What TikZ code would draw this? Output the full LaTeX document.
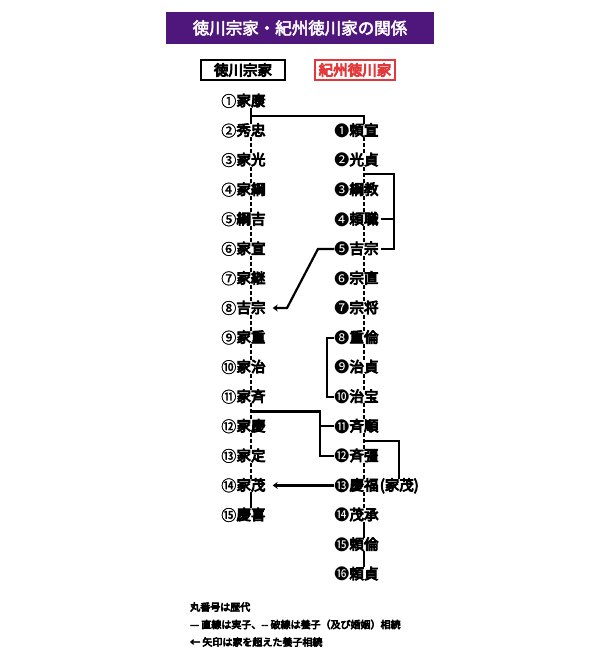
\documentclass[tikz,border=0pt]{standalone}
\usepackage{fontspec}
\setmainfont{Noto Sans CJK JP}
\newfontfamily\heavy{Noto Sans CJK JP}[FakeBold=6]
\newfontfamily\semi{Noto Sans CJK JP}[FakeBold=3]
\newfontfamily\numlight{Noto Sans CJK JP}[FakeBold=1.5]
\usetikzlibrary{arrows.meta,calc}
\definecolor{titlepurple}{HTML}{4F177B}
\definecolor{kired}{HTML}{E2383A}
\newcommand\lnd[4]{\node[nm,label={[lnum,name=#1n]left:#4}] (#1) at (251,#2) {#3};}
\newcommand\rnd[4]{\node[nm,label={[rnum,name=#1n]left:#4}] (#1) at (364,#2) {#3};}
\begin{document}
\begin{tikzpicture}[x=1pt,y=-1pt,
  nm/.style={font=\heavy\fontsize{14.5}{15}\selectfont, inner sep=0pt, text height=11.5pt, text depth=1.5pt},
  lnum/.style={font=\numlight\fontsize{15}{15}\selectfont, inner sep=0pt, outer sep=0pt},
  rnum/.style={font=\fontsize{15}{15}\selectfont, inner sep=0pt, outer sep=0pt},
  sl/.style={line width=2.2pt},
  dl/.style={line width=2.2pt, dash pattern=on 4pt off 2pt},
  arr/.style={line width=2.2pt, -{Stealth[length=5pt,width=7pt]}},
  hbox/.style={line width=2.2pt, minimum width=84pt, minimum height=20pt, inner sep=0pt, font=\heavy\fontsize{14.5}{15}\selectfont},
  leg/.style={anchor=west, inner sep=0pt, font=\heavy\fontsize{10}{11}\selectfont}]
\fill[white] (0,0) rectangle (600,658);
\useasboundingbox (0,0) rectangle (600,658);
% title
\node[fill=titlepurple, text=white, minimum width=268pt, minimum height=32pt, inner sep=0pt,
  font=\semi\fontsize{16.5}{17}\selectfont] (title) at (300,28) {徳川宗家・紀州徳川家の関係};
% headers
\node[hbox, draw=black] (h1) at (243,70) {徳川宗家};
\node[hbox, draw=kired, text=kired, minimum width=80pt] (h2) at (355,70) {紀州徳川家};
% left column
\lnd{L1}{101}{家康}{①}
\lnd{L2}{130.6}{秀忠}{②}
\lnd{L3}{160.1}{家光}{③}
\lnd{L4}{189.7}{家綱}{④}
\lnd{L5}{219.3}{綱吉}{⑤}
\lnd{L6}{248.9}{家宣}{⑥}
\lnd{L7}{278.4}{家継}{⑦}
\lnd{L8}{308}{吉宗}{⑧}
\lnd{L9}{337.6}{家重}{⑨}
\lnd{L10}{367.1}{家治}{⑩}
\lnd{L11}{396.7}{家斉}{⑪}
\lnd{L12}{426.3}{家慶}{⑫}
\lnd{L13}{455.9}{家定}{⑬}
\lnd{L14}{485.4}{家茂}{⑭}
\lnd{L15}{515}{慶喜}{⑮}
% right column
\rnd{R1}{130.6}{頼宣}{❶}
\rnd{R2}{160.1}{光貞}{❷}
\rnd{R3}{189.7}{綱教}{❸}
\rnd{R4}{219.3}{頼職}{❹}
\rnd{R5}{248.9}{吉宗}{❺}
\rnd{R6}{278.4}{宗直}{❻}
\rnd{R7}{308}{宗将}{❼}
\rnd{R8}{337.6}{重倫}{❽}
\rnd{R9}{367.1}{治貞}{❾}
\rnd{R10}{396.7}{治宝}{❿}
\rnd{R11}{426.3}{斉順}{⓫}
\rnd{R12}{455.9}{斉彊}{⓬}
\rnd{R13}{485.4}{慶福}{⓭}
\node[nm, anchor=west, xshift=1pt] (R13b) at (R13.east) {(家茂)};
\rnd{R14}{515}{茂承}{⓮}
\rnd{R15}{544.6}{頼倫}{⓯}
\rnd{R16}{574.1}{頼貞}{⓰}
% left vertical
\draw[sl] (L1) -- (L2);
\draw[dl] (L2) -- (L3);
\draw[dl] (L3) -- (L4);
\draw[dl] (L4) -- (L5);
\draw[dl] (L5) -- (L6);
\draw[dl] (L6) -- (L7);
\draw[dl] (L7) -- (L8);
\draw[dl] (L8) -- (L9);
\draw[dl] (L9) -- (L10);
\draw[dl] (L10) -- (L11);
\draw[dl] (L11) -- (L12);
\draw[dl] (L12) -- (L13);
\draw[dl] (L13) -- (L14);
\draw[sl] (L14) -- (L15);
% right vertical
\draw[dl] (R1) -- (R2);
\draw[dl] (R2) -- (R3);
\draw[dl] (R3) -- (R4);
\draw[dl] (R4) -- (R5);
\draw[dl] (R5) -- (R6);
\draw[dl] (R6) -- (R7);
\draw[dl] (R7) -- (R8);
\draw[dl] (R8) -- (R9);
\draw[dl] (R9) -- (R10);
\draw[dl] (R10) -- (R11);
\draw[dl] (R11) -- (R12);
\draw[dl] (R12) -- (R13);
\draw[dl] (R13) -- (R14);
\draw[sl] (R14) -- (R15);
\draw[sl] (R15) -- (R16);
% 家康 -> 頼宣
\coordinate (t1) at (251,116);
\draw[sl] (t1) -| (R1);
% 光貞 -> 頼職, 吉宗
\coordinate (b1) at (364,174);
\coordinate (bx) at (394,0);
\draw[sl] (b1) -| (R5.east -| bx) -- ([xshift=2pt]R5.east);
\draw[sl] ([xshift=2pt]R4.east) -- (R4.east -| bx);
% 吉宗 arrow
\coordinate (a1) at (318,248.9);
\coordinate (a2) at (287,308);
\draw[arr] (R5n.west) -- (a1) -- (a2) -- ([xshift=7pt]L8.east);
% 重倫 -> 治宝
\coordinate (cx) at (327,0);
\draw[sl] (R8n.west) -- (R8n.west -| cx) |- (R10n.west);
% 家斉 -> 斉順, 斉彊
\coordinate (c1) at (251,411.5);
\coordinate (dx) at (320,0);
\draw[sl] (c1) -| (R12n.west -| dx) -- (R12n.west);
\draw[sl] (R11n.west -| dx) -- (R11n.west);
% 斉順 -> 慶福
\coordinate (d1) at (364,441);
\draw[sl] (d1) -| (R13b);
% 慶福 arrow
\draw[arr] (R13n.west) -- ([xshift=7pt]L14.east);
% legend
\node[leg] (g1) at (190,607) {丸番号は歴代};
\node[leg] (g2) at (190,624.5) {— 直線は実子、-{}- 破線は養子（及び婚姻）相続};
\node[leg] (g3) at (190,642) {← 矢印は家を超えた養子相続};
\end{tikzpicture}
\end{document}
